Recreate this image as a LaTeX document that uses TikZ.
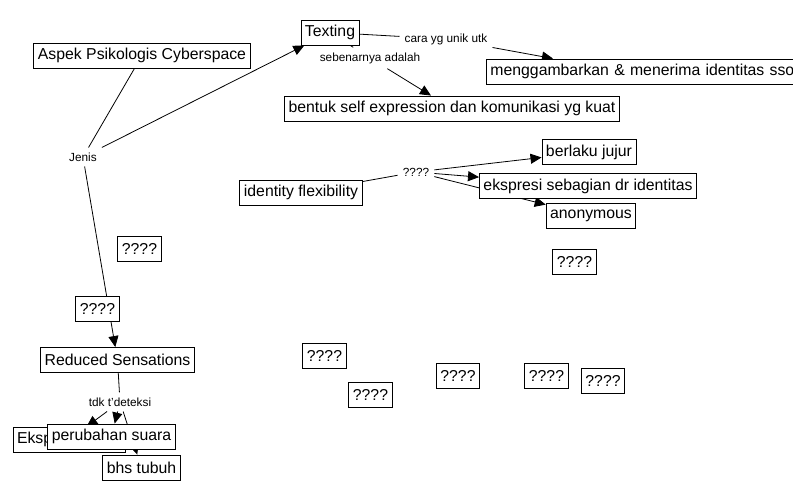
\documentclass[tikz,border=0pt]{standalone}
\usepackage{fontspec}
\setmainfont{Liberation Sans}
\usetikzlibrary{arrows.meta}
\usetikzlibrary{backgrounds}
\usetikzlibrary{calc}
\tikzset{concept/.style={draw, fill=white, line width=0.9pt, inner xsep=4pt, inner ysep=0pt,
   minimum height=25pt, font=\fontsize{15.8}{18}\selectfont},
 linking/.style={inner sep=5pt, font=\fontsize{11.8}{14}\selectfont},
 link/.style={draw, line width=0.8pt},
 linkarrow/.style={draw, line width=0.8pt, -{Triangle[length=11pt,width=10pt]}},
 }

\begin{document}
\begin{tikzpicture}[x=1pt,y=-1pt]
        \useasboundingbox (0,0) rectangle (793,500);
        \node[concept] (texting) at (330,32.5) {Texting};
        \node[concept] (aspek) at (142,55.5) {Aspek Psikologis Cyberspace};
        \node[linking] (jenis) at (83,157) {Jenis};
        \node[linking] (sebenarnya) at (370,58) {sebenarnya adalah};
        \node[linking] (cara) at (446,39) {cara yg unik utk};
        \node[concept] (bentuk) at (452,108.5) {bentuk self expression dan komunikasi yg kuat};
        \node[concept, anchor=west, text width=320pt, align=left] (mengg) at (486,71.5) {menggambarkan \& menerima identitas sso};
        \node[concept] (identity) at (301,192.5) {identity flexibility};
        \node[linking] (tanya) at (416,172) {????};
        \node[concept] (berlaku) at (589,152) {berlaku jujur};
        \node[concept] (ekspresi) at (588,186) {ekspresi sebagian dr identitas};
        \node[concept] (anonymous) at (591,216) {anonymous};
        \node[concept] (q1) at (97.5,308.5) {????};
        \node[concept] (q2) at (139.5,248.5) {????};
        \node[concept] (q3) at (574.5,262) {????};
        \node[concept] (q4) at (324.5,355.5) {????};
        \node[concept] (q5) at (370.5,394.5) {????};
        \node[concept] (q6) at (458,375.5) {????};
        \node[concept] (q7) at (546.5,375.5) {????};
        \node[concept] (q8) at (603,380.5) {????};
        \node[concept] (reduced) at (117.5,360) {Reduced Sensations};
        \node[linking] (tdk) at (120,402) {tdk t'deteksi};
        \node[concept, text width=104pt, align=left] (eksp) at (69,439.5) {Eksp};
        \node[concept] (perubahan) at (111.5,436.5) {perubahan suara};
        \node[concept] (bhs) at (141.5,467.5) {bhs tubuh};
        \begin{scope}[on background layer]
        \draw[link] (aspek) -- (jenis);
        \draw[linkarrow] (jenis) -- (texting);
        \draw[linkarrow] (jenis) -- (reduced);
        \draw[link] (texting) -- (sebenarnya);
        \draw[linkarrow] (sebenarnya) -- (bentuk);
        \draw[link] (texting) -- (cara);
        \draw[linkarrow] (cara) -- ($(mengg.north west)+(67,0)$);
        \draw[link] (identity) -- (tanya);
        \draw[linkarrow] (tanya) -- (berlaku);
        \draw[linkarrow] (tanya) -- (ekspresi);
        \draw[linkarrow] (tanya) -- (anonymous);
        \draw[link] (reduced) -- (tdk);
        \draw[linkarrow] (tdk) -- (eksp);
        \draw[linkarrow] (tdk) -- (perubahan);
        \draw[linkarrow] (tdk) -- (bhs);
        \end{scope}
    \end{tikzpicture}
\end{document}
